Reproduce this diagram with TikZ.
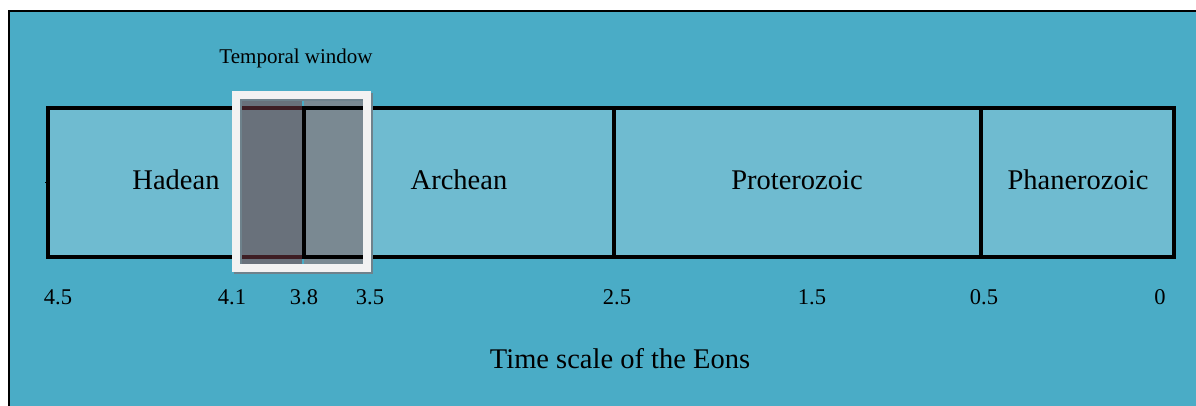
\documentclass[tikz,border=0pt]{standalone}
\usepackage{fontspec}
\setmainfont{Liberation Serif}
\definecolor{bg}{RGB}{74,172,198}
\definecolor{barfill}{RGB}{111,187,208}
\definecolor{winL}{RGB}{105,113,123}
\definecolor{winR}{RGB}{122,137,146}
\definecolor{framec}{RGB}{242,242,242}
\definecolor{shadowc}{RGB}{110,130,140}
\definecolor{darkred}{RGB}{62,30,36}
\begin{document}
\begin{tikzpicture}[x=1pt,y=-1pt,
  eonlabel/.style={anchor=base,inner sep=0pt,font=\fontsize{28.5}{34}\selectfont},
  ticklabel/.style={anchor=base,inner sep=0pt,font=\fontsize{22.5}{27}\selectfont},
  border/.style={line width=3.6pt,line cap=rect},
]
\useasboundingbox (0,0) rectangle (1196,405);
% background panel
\fill[bg] (9,11) rectangle (1205,415);
\draw[line width=2.2pt] (9,415) -- (9,11) -- (1205,11);
% bar fill
\fill[barfill] (48,108) rectangle (1174,257);
% right part of window overlay (under bar borders)
\fill[winR] (304,100) rectangle (363,264);
% bar borders
\draw[border] (48,108) rectangle (1174,257);
\draw[border] (304,108) -- (304,257);
\draw[border] (614,108) -- (614,257);
\draw[border] (981,108) -- (981,257);
% left part of window overlay
\fill[winL] (239,100) rectangle (302.2,264);
\draw[darkred,line width=3.6pt] (239,108) -- (302.2,108);
\draw[darkred,line width=3.6pt] (239,257) -- (302.2,257);
% window frame with shadow
\draw[shadowc,line width=8pt] (237.5,97) rectangle (369,269.5);
\draw[framec,line width=8pt] (235.5,95) rectangle (367,267.5);
% small mark at left edge
\draw[line width=1pt] (45,182) -- (48,182);
% labels
\node[eonlabel] (hadean) at (176,189) {Hadean};
\node[eonlabel] (archean) at (459,189) {Archean};
\node[eonlabel] (proterozoic) at (797,189) {Proterozoic};
\node[eonlabel] (phanerozoic) at (1078,189) {Phanerozoic};
\node[anchor=base,inner sep=0pt,font=\fontsize{21}{25}\selectfont] (tw) at (296,63) {Temporal window};
\node[ticklabel] (t45) at (58,304) {4.5};
\node[ticklabel] (t41) at (232,304) {4.1};
\node[ticklabel] (t38) at (304,304) {3.8};
\node[ticklabel] (t35) at (370,304) {3.5};
\node[ticklabel] (t25) at (617,304) {2.5};
\node[ticklabel] (t15) at (812,304) {1.5};
\node[ticklabel] (t05) at (984,304) {0.5};
\node[ticklabel] (t0) at (1160,304) {0};
\node[anchor=base,inner sep=0pt,font=\fontsize{28.5}{34}\selectfont] (title) at (620,368) {Time scale of the Eons};
\end{tikzpicture}
\end{document}
